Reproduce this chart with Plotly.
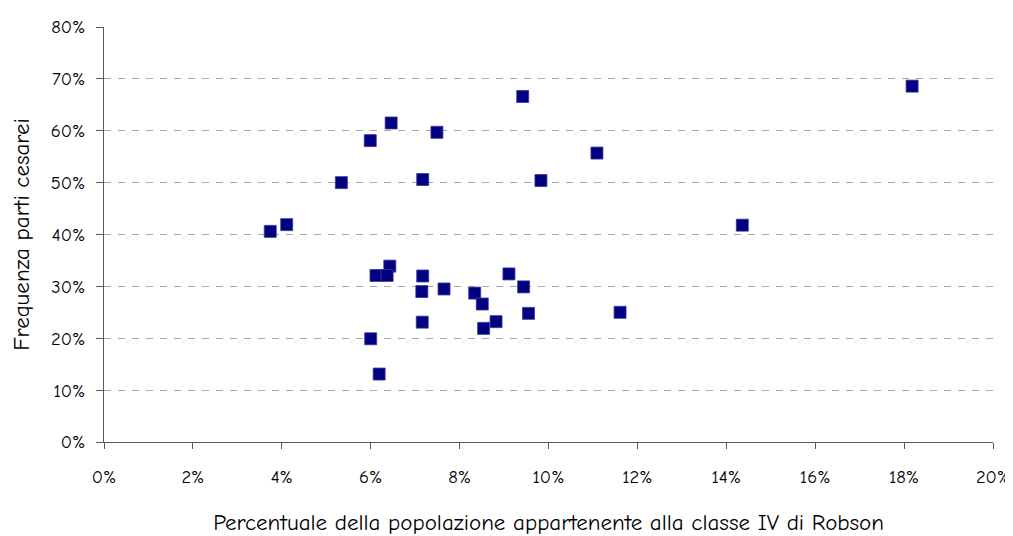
import plotly.graph_objects as go

# Share of population in Robson class IV (x) vs caesarean section rate (y)
robson_iv = [0.0942, 0.0646, 0.0599, 0.0749, 0.1109, 0.0534, 0.0717, 0.0983,
             0.0374, 0.0411, 0.1818, 0.1436, 0.1161,
             0.0643, 0.0612, 0.0637, 0.0717, 0.0715, 0.0765, 0.0834, 0.0851,
             0.0911, 0.0944, 0.0955, 0.0716, 0.0882, 0.0854, 0.0600, 0.0619]
cesarei = [0.666, 0.615, 0.581, 0.597, 0.557, 0.500, 0.506, 0.504,
           0.406, 0.419, 0.686, 0.418, 0.250,
           0.339, 0.321, 0.321, 0.320, 0.290, 0.295, 0.287, 0.266,
           0.324, 0.299, 0.248, 0.231, 0.232, 0.219, 0.199, 0.131]

x_ticks = [0, 0.02, 0.04, 0.06, 0.08, 0.10, 0.12, 0.14, 0.16, 0.18, 0.20]
y_ticks = [0, 0.1, 0.2, 0.3, 0.4, 0.5, 0.6, 0.7, 0.8]

FONT = "Comic Sans MS, Comic Neue, DejaVu Sans, sans-serif"

fig = go.Figure()
fig.add_trace(go.Scatter(
    x=robson_iv, y=cesarei, mode="markers",
    marker=dict(symbol="square", size=12, color="#000080",
                line=dict(width=0.8, color="#3a3a9a")),
    showlegend=False, hoverinfo="x+y",
))

# page body has an 8px default margin, so the figure is sized to fit the window
fig.update_layout(
    width=1005, height=528,
    margin=dict(l=96, r=20, t=19, b=94),
    paper_bgcolor="white", plot_bgcolor="white",
    font=dict(family=FONT, size=18.5, color="black"),
)
fig.update_xaxes(
    range=[0, 0.20], tickvals=x_ticks, tickformat=".0%",
    showgrid=False, zeroline=False, automargin=False,
    showline=True, linecolor="#5a5a5a", linewidth=1,
    ticks="outside", ticklen=6, tickcolor="#5a5a5a",
    ticklabelstandoff=12,
    title=dict(text="Percentuale della popolazione appartenente alla classe IV di Robson",
               font=dict(size=23), standoff=38),
)
fig.update_yaxes(
    range=[0, 0.80], tickvals=y_ticks, tickformat=".0%",
    showgrid=True, gridcolor="#a8a8a8", gridwidth=1, griddash="7px,7px",
    zeroline=False, automargin=False,
    showline=True, linecolor="#5a5a5a", linewidth=1,
    ticks="outside", ticklen=7, tickcolor="#5a5a5a",
    ticklabelstandoff=7,
    title=dict(text="Frequenza parti cesarei", font=dict(size=23), standoff=14),
)

fig.write_html("out.html")
